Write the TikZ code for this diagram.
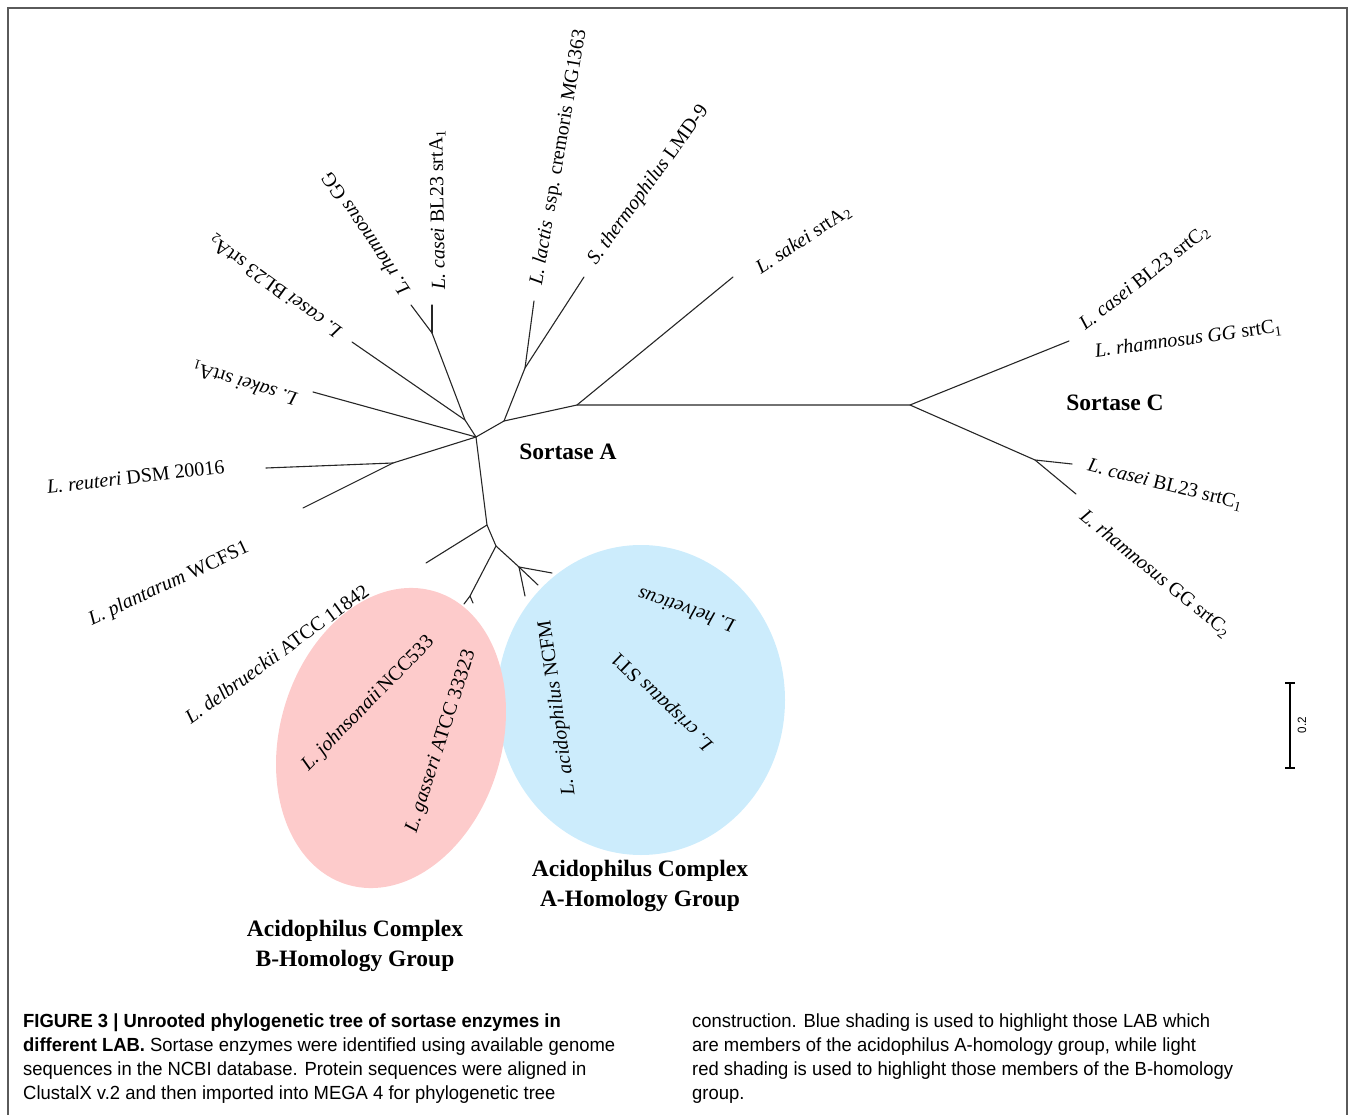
\documentclass[tikz,border=0pt]{standalone}
\usepackage{fontspec}
\setmainfont{Liberation Serif}
\newfontfamily\capfont[FakeStretch=0.97]{Liberation Sans}
\newcommand{\lsub}[1]{\textsubscript{#1}}
\definecolor{pinkshade}{RGB}{253,203,203}
\definecolor{blueshade}{RGB}{204,236,252}
\definecolor{framegray}{RGB}{90,90,90}
\tikzset{
  branch/.style={line width=1.1pt, draw=black!85, line cap=round, line join=round},
  lab/.style={font=\fontsize{20}{24}\selectfont, inner sep=0pt, anchor=west},
  grp/.style={font=\fontsize{23.5}{30}\selectfont\bfseries, inner sep=0pt, align=center},
  captxt/.style={font=\capfont\fontsize{19}{24}\selectfont, inner sep=0pt, anchor=base west}
}
\begin{document}
\begin{tikzpicture}[x=1pt,y=1pt]
\useasboundingbox (0,0) rectangle (1350,-1115);
% frame
\draw[framegray, line width=1.2pt] (8,-1115) -- (8,-8) -- (1347,-8) -- (1347,-1115);

% shading
\fill[blueshade] (641,-700) ellipse [x radius=144, y radius=155];
\fill[pinkshade, rotate around={73.5:(391,-738)}] (391,-738) ellipse [x radius=153, y radius=111];

% tree coordinates
\coordinate (c0) at (476,-437);
\coordinate (j1) at (465,-420);
\coordinate (jCR) at (432,-333);
\coordinate (tRham) at (411,-305);
\coordinate (tCaseiA1) at (432,-305);
\coordinate (tCaseiA2) at (352,-342);
\coordinate (tSakeiA1) at (313,-392);
\coordinate (jRP) at (393,-463);
\coordinate (tReut) at (266,-468);
\coordinate (tPlan) at (303,-508);
\coordinate (jL1) at (487,-525);
\coordinate (tDelb) at (426,-563);
\coordinate (jL2) at (496,-546);
\coordinate (jB) at (470,-596);
\coordinate (tJohn) at (464,-604);
\coordinate (tGass) at (473,-603);
\coordinate (jA) at (519,-567);
\coordinate (tHelv) at (552,-573);
\coordinate (tCris) at (538,-585);
\coordinate (tAcid) at (525,-596);
\coordinate (u1) at (504,-421);
\coordinate (jLS) at (525,-368);
\coordinate (tLact) at (534,-301);
\coordinate (tTher) at (584,-277);
\coordinate (u2) at (577,-405);
\coordinate (tSakeiA2) at (733,-277);
\coordinate (jC) at (910,-405);
\coordinate (tCaseiC2) at (1069,-341);
\coordinate (jC1) at (1035,-460);
\coordinate (tCaseiC1) at (1072,-464);
\coordinate (tRhamC2) at (1076,-494);

% branches
\draw[branch] (c0) -- (j1) -- (jCR) -- (tRham);
\draw[branch] (jCR) -- (tCaseiA1);
\draw[branch] (j1) -- (tCaseiA2);
\draw[branch] (c0) -- (tSakeiA1);
\draw[branch] (c0) -- (jRP) -- (tReut);
\draw[branch] (jRP) -- (tPlan);
\draw[branch] (c0) -- (jL1) -- (tDelb);
\draw[branch] (jL1) -- (jL2) -- (jB) -- (tJohn);
\draw[branch] (jB) -- (tGass);
\draw[branch] (jL2) -- (jA) -- (tHelv);
\draw[branch] (jA) -- (tCris);
\draw[branch] (jA) -- (tAcid);
\draw[branch] (c0) -- (u1) -- (jLS) -- (tLact);
\draw[branch] (jLS) -- (tTher);
\draw[branch] (u1) -- (u2) -- (tSakeiA2);
\draw[branch] (u2) -- (jC) -- (tCaseiC2);
\draw[branch] (jC) -- (jC1) -- (tCaseiC1);
\draw[branch] (jC1) -- (tRhamC2);

% labels
\node[lab, rotate=124] (lRham) at (405,-293) {\textit{L. rhamnosus} GG};
\node[lab, rotate=91] (lCaseiA1) at (440,-290) {\textit{L. casei} BL23 srtA\lsub{1}};
\node[lab, rotate=144] (lCaseiA2) at (340,-333) {\textit{L. casei} BL23 srtA\lsub{2}};
\node[lab, rotate=163] (lSakeiA1) at (297,-399) {\textit{L. sakei} srtA\lsub{1}};
\node[lab, rotate=6.5] (lReut) at (47,-487) {\textit{L. reuteri} DSM 20016};
\node[lab, rotate=25] (lPlan) at (90,-621) {\textit{L. plantarum} WCFS1};
\node[lab, rotate=36] (lDelb) at (187,-719) {\textit{L. delbrueckii} ATCC 11842};
\node[lab, rotate=45.5] (lJohn) at (305,-768) {\textit{L. johnsonaii}\,NCC533};
\node[lab, rotate=72] (lGass) at (412,-832) {\textit{L. gasseri} ATCC 33323};
\node[lab, rotate=98] (lAcid) at (570,-795) {\textit{L. acidophilus} NCFM};
\node[lab, rotate=161] (lHelv) at (734,-627) {\textit{L. helveticus}};
\node[lab, rotate=136] (lCris) at (711,-747) {\textit{L. crispatus} ST1};
\node[lab, rotate=80.2] (lLact) at (537,-285) {\textit{L. lactis}\ \ ssp. cremoris MG1363};
\node[lab, rotate=54] (lTher) at (592,-263) {\textit{S. thermophilus} LMD-9};
\node[lab, rotate=33.5] (lSakeiA2) at (758,-270) {\textit{L. sakei} srtA\lsub{2}};
\node[lab, rotate=38] (lCaseiC2) at (1082,-327) {\textit{L. casei} BL23 srtC\lsub{2}};
\node[lab, rotate=7.7] (lRhamC1) at (1095,-352) {\textit{L. rhamnosus GG} srtC\lsub{1}};
\node[lab, rotate=-14] (lCaseiC1) at (1088,-466) {\textit{L. casei} BL23 srtC\lsub{1}};
\node[lab, rotate=-39.3] (lRhamC2) at (1082,-514) {\textit{L. rhamnosus} GG srtC\lsub{2}};

% group labels
\node[grp] (sA) at (568,-452) {Sortase A};
\node[grp] (sC) at (1115,-403) {Sortase C};
\node[grp] (gA) at (640,-886) {Acidophilus Complex\\A-Homology Group};
\node[grp] (gB) at (355,-946) {Acidophilus Complex\\B-Homology Group};

% scale bar
\coordinate (sbT) at (1290,-683);
\coordinate (sbB) at (1290,-768);
\draw[line width=1.1pt] (sbT) -- (sbB);
\draw[line width=1.1pt] ([xshift=-5pt]sbT) -- ([xshift=5pt]sbT);
\draw[line width=1.1pt] ([xshift=-5pt]sbB) -- ([xshift=5pt]sbB);
\node[font=\capfont\fontsize{12}{14}\selectfont, rotate=90, inner sep=0pt] (sbl) at (1302,-725) {0.2};

% caption
\node[captxt] (cap1) at (23,-1027) {\textbf{FIGURE 3 | Unrooted phylogenetic tree of sortase enzymes in}};
\node[captxt] (cap2) at (23,-1051) {\textbf{different LAB.} Sortase enzymes were identified using available genome};
\node[captxt] (cap3) at (23,-1075) {sequences in the NCBI database. Protein sequences were aligned in};
\node[captxt] (cap4) at (23,-1099) {ClustalX v.2 and then imported into MEGA 4 for phylogenetic tree};
\node[captxt] (cap5) at (692,-1027) {construction. Blue shading is used to highlight those LAB which};
\node[captxt] (cap6) at (692,-1051) {are members of the acidophilus A-homology group, while light};
\node[captxt] (cap7) at (692,-1075) {red shading is used to highlight those members of the B-homology};
\node[captxt] (cap8) at (692,-1099) {group.};
\end{tikzpicture}
\end{document}
